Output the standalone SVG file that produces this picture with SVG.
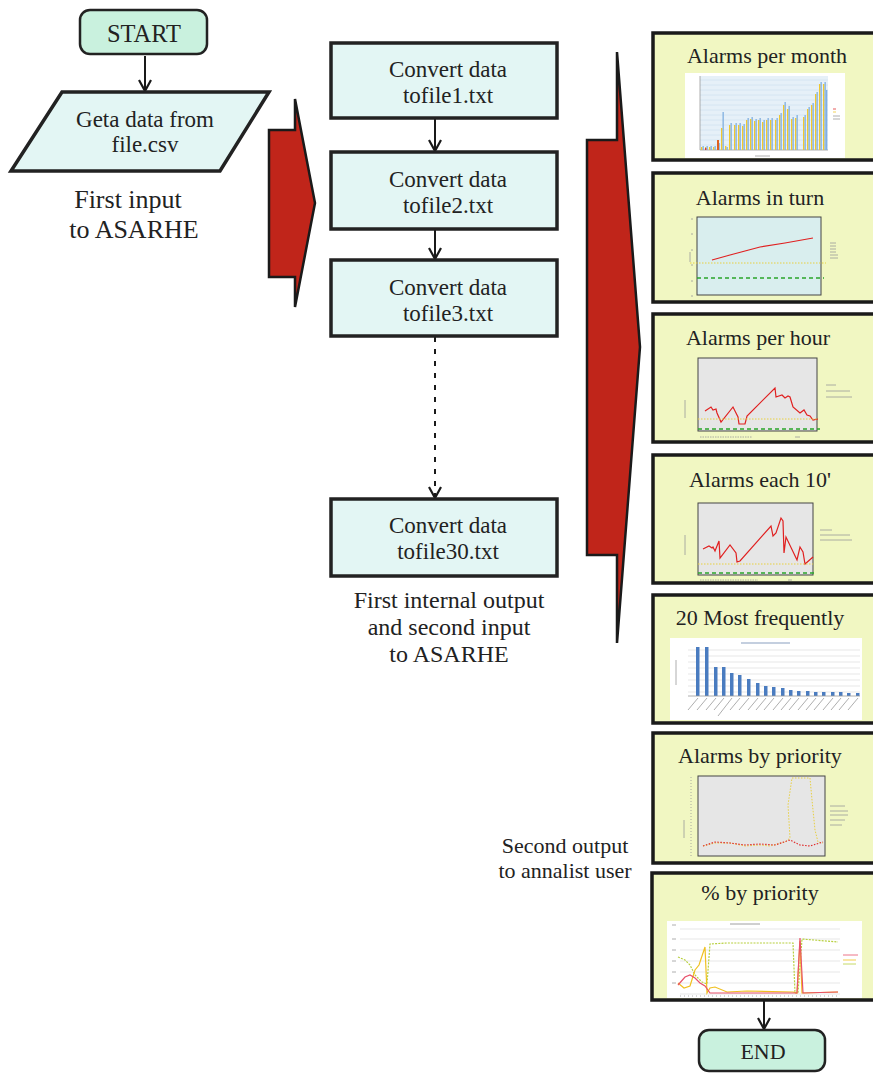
<svg xmlns="http://www.w3.org/2000/svg" width="873" height="1073" viewBox="0 0 873 1073">
<style>
  text { font-family: "Liberation Serif", "Times New Roman", serif; fill: #222; text-anchor: middle; }
  .big { font-size: 26px; }
  .mid { font-size: 23px; }
  .lbl { font-size: 24px; }
  .sm { font-size: 22px; }
  .ttl { font-size: 22px; }
  .term { fill: #c9f1de; stroke: #222; stroke-width: 2.5; }
  .proc { fill: #e3f6f4; stroke: #222; stroke-width: 3.5; }
  .panel { fill: #f1f7c2; stroke: #1a1a1a; stroke-width: 3.5; }
  .bigarrow { fill: #c0251a; stroke: #1a1a1a; stroke-width: 2.5; stroke-linejoin: miter; }
  .conn { stroke: #1a1a1a; stroke-width: 2; fill: none; }
  .plotg { fill: #e6e6e6; stroke: #444; stroke-width: 1; }
  .red { stroke: #e02020; stroke-width: 1.2; fill: none; }
  .ydot { stroke: #e8d040; stroke-width: 1; stroke-dasharray: 1.5,1.5; fill: none; }
  .gdash { stroke: #2aa52a; stroke-width: 1.3; stroke-dasharray: 4,3; fill: none; }
  .tiny { stroke: #999; stroke-width: 0.8; }
  .grid { stroke: #d0e2f0; stroke-width: 0.8; }
  .grid2 { stroke: #dddddd; stroke-width: 0.7; }
</style>
<defs>
  <marker id="arr" viewBox="-1 -7 13 14" refX="11" refY="0" markerWidth="13" markerHeight="14" markerUnits="userSpaceOnUse" orient="auto">
    <path d="M0,-6 L11,0 L0,6" fill="none" stroke="#1a1a1a" stroke-width="2.2"/>
  </marker>
</defs>

<!-- Connectors -->
<g id="connectors">
  <line class="conn" x1="145" y1="56" x2="145" y2="91" marker-end="url(#arr)"/>
  <line class="conn" x1="435" y1="118" x2="435" y2="151" marker-end="url(#arr)"/>
  <line class="conn" x1="435" y1="229" x2="435" y2="259" marker-end="url(#arr)"/>
  <line class="conn" x1="435" y1="337" x2="435" y2="498" stroke-dasharray="5,7" stroke-width="2.5" marker-end="url(#arr)"/>
  <line class="conn" x1="764" y1="1001" x2="764" y2="1029" marker-end="url(#arr)"/>
</g>

<!-- Big red arrows -->
<g id="arrow1">
  <polygon class="bigarrow" points="269,130 295,130 295,99 315,203 295,307 295,277 269,277"/>
</g>
<g id="arrow2">
  <polygon class="bigarrow" points="587,140 617,140 617,52 640,347 617,643 617,555 587,555"/>
</g>

<!-- START -->
<g id="start">
  <rect class="term" x="80" y="10" width="127" height="44" rx="10"/>
  <text x="144" y="42" font-size="24.5">START</text>
</g>

<!-- Input parallelogram -->
<g id="input">
  <polygon class="proc" stroke-width="2.5" points="62,92 269,92 220,171 11,171"/>
  <text class="mid" x="145" y="127">Geta data from</text>
  <text class="mid" x="145" y="152">file.csv</text>
</g>
<g id="label-first-input">
  <text class="big" x="128" y="208">First input</text>
  <text class="big" x="134" y="238">to ASARHE</text>
</g>

<!-- Process boxes -->
<g id="box1">
  <rect class="proc" x="331" y="43" width="226" height="75"/>
  <text class="mid" x="448" y="77">Convert data</text>
  <text class="mid" x="448" y="103">tofile1.txt</text>
</g>
<g id="box2">
  <rect class="proc" x="331" y="152" width="226" height="77"/>
  <text class="mid" x="448" y="187">Convert data</text>
  <text class="mid" x="448" y="213">tofile2.txt</text>
</g>
<g id="box3">
  <rect class="proc" x="331" y="260" width="226" height="76"/>
  <text class="mid" x="448" y="295">Convert data</text>
  <text class="mid" x="448" y="321">tofile3.txt</text>
</g>
<g id="box30">
  <rect class="proc" x="331" y="499" width="226" height="77"/>
  <text class="mid" x="448" y="533">Convert data</text>
  <text class="mid" x="448" y="559">tofile30.txt</text>
</g>
<g id="label-internal">
  <text class="lbl" x="449" y="608">First internal output</text>
  <text class="lbl" x="449" y="635">and second input</text>
  <text class="lbl" x="449" y="662">to ASARHE</text>
</g>
<g id="label-second-output">
  <text class="sm" x="565" y="853">Second output</text>
  <text class="sm" x="565" y="878">to annalist user</text>
</g>

<!-- Panel 1 -->
<g id="panel1">
  <rect class="panel" x="653" y="33" width="224" height="127"/>
  <text class="ttl" x="767" y="63">Alarms per month</text>
  <rect x="685" y="73" width="160" height="85" fill="#ffffff"/>
  <rect x="700" y="76" width="128" height="74" fill="#e6f0f8"/>
  <g class="grid">
    <line x1="700" y1="80" x2="828" y2="80"/><line x1="700" y1="85" x2="828" y2="85"/><line x1="700" y1="90" x2="828" y2="90"/>
    <line x1="700" y1="95" x2="828" y2="95"/><line x1="700" y1="100" x2="828" y2="100"/><line x1="700" y1="105" x2="828" y2="105"/>
    <line x1="700" y1="110" x2="828" y2="110"/><line x1="700" y1="115" x2="828" y2="115"/><line x1="700" y1="120" x2="828" y2="120"/>
    <line x1="700" y1="125" x2="828" y2="125"/><line x1="700" y1="130" x2="828" y2="130"/><line x1="700" y1="135" x2="828" y2="135"/>
    <line x1="700" y1="140" x2="828" y2="140"/><line x1="700" y1="145" x2="828" y2="145"/>
  </g>
  <line x1="700" y1="150" x2="828" y2="150" stroke="#999" stroke-width="0.8"/>
  <line x1="700" y1="76" x2="700" y2="150" stroke="#999" stroke-width="0.8"/>
  <g fill="#f0c830">
    <rect x="701" y="147" width="1.4" height="3"/><rect x="705" y="147" width="1.4" height="3"/><rect x="709" y="147" width="1.4" height="3"/>
    <rect x="713" y="147" width="1.4" height="3"/><rect x="717" y="144" width="1.4" height="6"/><rect x="721" y="128" width="1.4" height="22"/>
    <rect x="725" y="146" width="1.4" height="4"/><rect x="729" y="125" width="1.4" height="25"/><rect x="734" y="125" width="1.4" height="25"/>
    <rect x="738" y="125" width="1.4" height="25"/><rect x="742" y="126" width="1.4" height="24"/><rect x="746" y="120" width="1.4" height="30"/>
    <rect x="750" y="119" width="1.4" height="31"/><rect x="754" y="121" width="1.4" height="29"/><rect x="758" y="120" width="1.4" height="30"/>
    <rect x="762" y="122" width="1.4" height="28"/><rect x="766" y="120" width="1.4" height="30"/><rect x="770" y="120" width="1.4" height="30"/>
    <rect x="775" y="120" width="1.4" height="30"/><rect x="779" y="115" width="1.4" height="35"/><rect x="783" y="105" width="1.4" height="45"/>
    <rect x="787" y="109" width="1.4" height="41"/><rect x="791" y="119" width="1.4" height="31"/><rect x="795" y="118" width="1.4" height="32"/>
    <rect x="803" y="117" width="1.4" height="33"/><rect x="807" y="109" width="1.4" height="41"/><rect x="811" y="105" width="1.4" height="45"/>
    <rect x="815" y="94" width="1.4" height="56"/><rect x="819" y="84" width="1.4" height="66"/><rect x="823" y="84" width="1.4" height="66"/>
  </g>
  <g fill="#80b0e0">
    <rect x="702.5" y="146" width="1.3" height="4"/><rect x="706.5" y="146" width="1.3" height="4"/><rect x="710.5" y="146" width="1.3" height="4"/>
    <rect x="714.5" y="146" width="1.3" height="4"/><rect x="718.5" y="143" width="1.3" height="7"/><rect x="722.5" y="112" width="1.3" height="38"/>
    <rect x="726.5" y="147" width="1.3" height="3"/><rect x="730.5" y="123" width="1.3" height="27"/><rect x="735.5" y="123" width="1.3" height="27"/>
    <rect x="739.5" y="123" width="1.3" height="27"/><rect x="743.5" y="124" width="1.3" height="26"/><rect x="747.5" y="118" width="1.3" height="32"/>
    <rect x="751.5" y="117" width="1.3" height="33"/><rect x="755.5" y="119" width="1.3" height="31"/><rect x="759.5" y="118" width="1.3" height="32"/>
    <rect x="763.5" y="120" width="1.3" height="30"/><rect x="767.5" y="118" width="1.3" height="32"/><rect x="771.5" y="118" width="1.3" height="32"/>
    <rect x="776.5" y="118" width="1.3" height="32"/><rect x="780.5" y="113" width="1.3" height="37"/><rect x="784.5" y="102" width="1.3" height="48"/>
    <rect x="788.5" y="106" width="1.3" height="44"/><rect x="792.5" y="117" width="1.3" height="33"/><rect x="796.5" y="115" width="1.3" height="35"/>
    <rect x="804.5" y="115" width="1.3" height="35"/><rect x="808.5" y="107" width="1.3" height="43"/><rect x="812.5" y="103" width="1.3" height="47"/>
    <rect x="816.5" y="92" width="1.3" height="58"/><rect x="820.5" y="82" width="1.3" height="68"/><rect x="824.5" y="82" width="1.3" height="68"/>
    <rect x="826" y="90" width="1.3" height="60"/>
  </g>
  <rect x="717" y="140" width="2" height="10" fill="#e06020"/>
  <rect x="705" y="148" width="1.3" height="2" fill="#e03030"/>
  <g class="tiny">
    <line x1="833" y1="109" x2="836" y2="109" stroke="#e03030"/><line x1="833" y1="112" x2="836" y2="112" stroke="#f0c830"/>
    <line x1="833" y1="116" x2="840" y2="116"/><line x1="833" y1="119" x2="840" y2="119"/>
    <line x1="755" y1="156" x2="770" y2="156"/>
  </g>
</g>

<!-- Panel 2 -->
<g id="panel2">
  <rect class="panel" x="653" y="173" width="224" height="129"/>
  <text class="ttl" x="760" y="205">Alarms in turn</text>
  <rect x="697" y="217" width="124" height="78" fill="#d9eeee" stroke="#444" stroke-width="1"/>
  <polyline class="red" points="712,260 730,255 745,251 760,247 785,243 813,238"/>
  <line class="ydot" x1="690" y1="263" x2="826" y2="263"/>
  <line class="gdash" x1="697" y1="278" x2="824" y2="278"/>
  <g class="tiny">
    <line x1="830" y1="243" x2="836" y2="243"/><line x1="830" y1="246" x2="836" y2="246"/><line x1="830" y1="249" x2="836" y2="249"/>
    <line x1="830" y1="252" x2="836" y2="252"/><line x1="830" y1="255" x2="838" y2="255"/><line x1="830" y1="258" x2="838" y2="258"/>
    <line x1="691" y1="219" x2="693" y2="219"/><line x1="691" y1="234" x2="693" y2="234"/><line x1="691" y1="250" x2="693" y2="250"/>
    <line x1="691" y1="265" x2="693" y2="265"/><line x1="691" y1="281" x2="693" y2="281"/><line x1="691" y1="296" x2="693" y2="296"/>
    <line x1="690" y1="252" x2="690" y2="262"/>
  </g>
</g>

<!-- Panel 3 -->
<g id="panel3">
  <rect class="panel" x="653" y="314" width="224" height="128"/>
  <text class="ttl" x="758" y="345">Alarms per hour</text>
  <rect class="plotg" x="698" y="358" width="119" height="73"/>
  <polyline class="red" points="705,411 711,407 713,410 716,409 717,413 721,422 733,407 738,417 739,424 745,424 747,416 775,388 776,397 782,395 785,398 788,396 790,397 793,407 800,413 804,410 807,415 810,416 813,420 818,419"/>
  <line class="ydot" x1="698" y1="419" x2="817" y2="419"/>
  <line class="gdash" x1="698" y1="429" x2="820" y2="429"/>
  <g class="tiny">
    <line x1="826" y1="385" x2="836" y2="385"/><line x1="826" y1="391" x2="850" y2="391"/><line x1="826" y1="397" x2="852" y2="397"/>
    <line x1="700" y1="437" x2="752" y2="437" stroke-dasharray="1.5,1"/><line x1="795" y1="437" x2="800" y2="437"/>
    <line x1="685" y1="400" x2="685" y2="418"/>
  </g>
</g>

<!-- Panel 4 -->
<g id="panel4">
  <rect class="panel" x="653" y="455" width="224" height="128"/>
  <text class="ttl" x="760" y="487">Alarms each 10'</text>
  <rect class="plotg" x="698" y="503" width="115" height="72"/>
  <polyline class="red" points="703,549 709,546 712,548 713,547 715,551 719,541 720,558 730,545 736,553 737,562 740,561 771,526 773,536 776,533 781,518 783,521 784,553 786,537 797,560 800,547 803,552 805,564 813,557"/>
  <line class="ydot" x1="698" y1="564" x2="813" y2="564"/>
  <line class="gdash" x1="698" y1="573" x2="816" y2="573"/>
  <g class="tiny">
    <line x1="820" y1="530" x2="832" y2="530"/><line x1="820" y1="535" x2="850" y2="535"/><line x1="820" y1="540" x2="852" y2="540"/>
    <line x1="700" y1="580" x2="758" y2="580" stroke-dasharray="1.5,1"/><line x1="788" y1="580" x2="792" y2="580"/>
    <line x1="685" y1="535" x2="685" y2="555"/>
  </g>
</g>

<!-- Panel 5 -->
<g id="panel5">
  <rect class="panel" x="653" y="595" width="224" height="128"/>
  <text class="ttl" x="760" y="625">20 Most frequently</text>
  <rect x="670" y="638" width="192" height="82" fill="#ffffff"/>
  <g class="grid2">
    <line x1="688" y1="650" x2="860" y2="650"/><line x1="688" y1="656" x2="860" y2="656"/><line x1="688" y1="662" x2="860" y2="662"/>
    <line x1="688" y1="668" x2="860" y2="668"/><line x1="688" y1="674" x2="860" y2="674"/><line x1="688" y1="680" x2="860" y2="680"/>
    <line x1="688" y1="686" x2="860" y2="686"/><line x1="688" y1="692" x2="860" y2="692"/>
  </g>
  <line x1="741" y1="643" x2="790" y2="643" stroke="#8aa0c0" stroke-width="1.2"/>
  <g fill="#4a7cc0">
    <rect x="696" y="647" width="3.5" height="49"/><rect x="705" y="647" width="3.5" height="49"/><rect x="714" y="667" width="3.5" height="29"/>
    <rect x="722" y="667" width="3.5" height="29"/><rect x="730" y="673" width="3.5" height="23"/><rect x="738" y="675" width="3.5" height="21"/>
    <rect x="747" y="679" width="3.5" height="17"/><rect x="756" y="683" width="3.5" height="13"/><rect x="764" y="686" width="3.5" height="10"/>
    <rect x="772" y="687" width="3.5" height="9"/><rect x="781" y="688" width="3.5" height="8"/><rect x="789" y="690" width="3.5" height="6"/>
    <rect x="797" y="691" width="3.5" height="5"/><rect x="806" y="691" width="3.5" height="5"/><rect x="814" y="692" width="3.5" height="4"/>
    <rect x="822" y="692" width="3.5" height="4"/><rect x="831" y="692" width="3.5" height="4"/><rect x="839" y="692" width="3.5" height="4"/>
    <rect x="847" y="693" width="3.5" height="3"/><rect x="856" y="693" width="3.5" height="3"/>
  </g>
  <line x1="688" y1="696" x2="860" y2="696" stroke="#999" stroke-width="0.8"/>
  <g class="tiny" stroke="#7a90b0">
    <line x1="698" y1="698" x2="688" y2="710"/><line x1="707" y1="698" x2="697" y2="710"/><line x1="716" y1="698" x2="706" y2="710"/>
    <line x1="724" y1="698" x2="714" y2="710"/><line x1="732" y1="698" x2="718" y2="716"/><line x1="740" y1="698" x2="730" y2="710"/>
    <line x1="749" y1="698" x2="739" y2="710"/><line x1="758" y1="698" x2="748" y2="710"/><line x1="766" y1="698" x2="756" y2="710"/>
    <line x1="774" y1="698" x2="764" y2="710"/><line x1="783" y1="698" x2="773" y2="710"/><line x1="791" y1="698" x2="781" y2="710"/>
    <line x1="799" y1="698" x2="789" y2="710"/><line x1="808" y1="698" x2="798" y2="710"/><line x1="816" y1="698" x2="806" y2="710"/>
    <line x1="824" y1="698" x2="814" y2="710"/><line x1="833" y1="698" x2="823" y2="710"/><line x1="841" y1="698" x2="831" y2="710"/>
    <line x1="849" y1="698" x2="839" y2="710"/><line x1="858" y1="698" x2="848" y2="710"/>
    <line x1="676" y1="660" x2="676" y2="685"/>
  </g>
</g>

<!-- Panel 6 -->
<g id="panel6">
  <rect class="panel" x="653" y="733" width="224" height="130"/>
  <text class="ttl" x="760" y="763">Alarms by priority</text>
  <rect class="plotg" x="698" y="776" width="127" height="80"/>
  <polyline class="ydot" stroke-width="1.2" points="703,846 715,843 730,843 745,846 760,845 770,846 785,842 790,838 788,805 792,778 810,778 812,800 815,830 818,842 823,843"/>
  <polyline fill="none" stroke="#e03030" stroke-width="1.2" stroke-dasharray="1.5,1.5" points="703,846 715,842 730,843 745,845 760,844 775,845 790,840 800,845 810,846 823,842"/>
  <g class="tiny">
    <line x1="830" y1="806" x2="845" y2="806"/><line x1="830" y1="811" x2="848" y2="811"/><line x1="830" y1="815" x2="848" y2="815"/>
    <line x1="830" y1="820" x2="845" y2="820"/><line x1="830" y1="825" x2="842" y2="825"/>
    <line x1="691" y1="777" x2="691" y2="858" stroke-dasharray="1,2"/>
    <line x1="684" y1="820" x2="684" y2="838"/>
  </g>
</g>

<!-- Panel 7 -->
<g id="panel7">
  <rect class="panel" x="652" y="873" width="225" height="127"/>
  <text class="ttl" x="760" y="900">% by priority</text>
  <rect x="667" y="921" width="195" height="77" fill="#ffffff"/>
  <g class="grid2">
    <line x1="680" y1="929" x2="840" y2="929"/><line x1="680" y1="939" x2="840" y2="939"/><line x1="680" y1="950" x2="840" y2="950"/>
    <line x1="680" y1="961" x2="840" y2="961"/><line x1="680" y1="972" x2="840" y2="972"/><line x1="680" y1="983" x2="840" y2="983"/>
    <line x1="680" y1="994" x2="840" y2="994"/>
  </g>
  <line x1="730" y1="924" x2="760" y2="924" stroke="#888" stroke-width="0.8"/>
  <polyline fill="none" stroke="#b8d040" stroke-width="1.2" stroke-dasharray="2,1.2" points="678,957 685,960 690,965 695,975 702,982 707,984 710,944 727,943 760,943 793,943 795,993 798,993 802,939 838,942"/>
  <polyline fill="none" stroke="#f0c020" stroke-width="1.2" points="678,983 684,988 690,986 695,970 699,965 705,947 707,993 710,988 715,987 727,992 747,991 793,992 797,993 800,941 802,993 838,992"/>
  <polyline fill="none" stroke="#e8506a" stroke-width="1.2" points="678,985 685,977 690,975 695,978 700,983 705,986 710,993 793,993 797,993 800,938 803,993 838,992"/>
  <g class="tiny">
    <line x1="843" y1="955" x2="858" y2="955" stroke="#e8506a"/><line x1="843" y1="960" x2="856" y2="960" stroke="#f0c020"/><line x1="843" y1="964" x2="856" y2="964" stroke="#b8d040"/>
    <line x1="672" y1="925" x2="676" y2="925"/><line x1="672" y1="939" x2="676" y2="939"/><line x1="672" y1="950" x2="676" y2="950"/>
    <line x1="672" y1="961" x2="676" y2="961"/><line x1="672" y1="972" x2="676" y2="972"/><line x1="672" y1="983" x2="676" y2="983"/>
    <line x1="680" y1="996" x2="840" y2="996" stroke-dasharray="1,3"/>
  </g>
</g>

<!-- END -->
<g id="end">
  <rect class="term" x="699" y="1030" width="126" height="41" rx="10"/>
  <text class="sm" x="763" y="1059">END</text>
</g>
</svg>
